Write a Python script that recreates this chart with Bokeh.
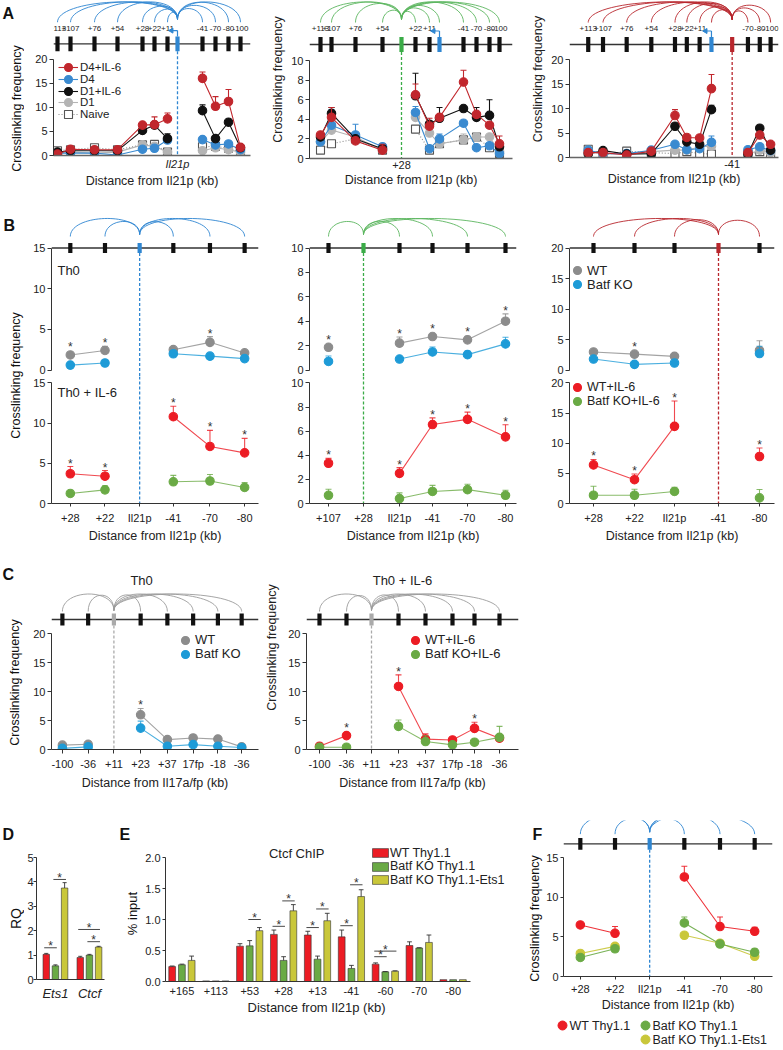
import math
import numpy as np
from bokeh.plotting import figure
from bokeh.layouts import row, column
from bokeh.models import (Range1d, FixedTicker, Legend, LegendItem, Spacer, Title,
                          PrintfTickFormatter)
from bokeh.core.properties import value
from bokeh.embed import file_html
from bokeh.resources import INLINE

FONT = "Liberation Sans"
INK = "#222222"

# ============================ DATA ============================
# ---- Panel A : 3C, three viewpoints across the Il21 locus
A_SITE_LABELS = ["+113", "+107", "+76", "+54", "+28", "+22", "+11", "Il21p", "-41", "-70", "-80", "-100"]
A_SERIES = ["D4+IL-6", "D4", "D1+IL-6", "D1", "Naive"]

A1_SITES = ["+113", "+107", "+76", "+54", "+28", "+22", "+11", "-41", "-70", "-80", "-100"]
A1_D4_IL6 = [0.3, 1.3, 1.2, 1.2, 6.3, 6.4, 7.6, 16.0, 10.2, 11.2, 1.7]
A1_D4_IL6_ERR = [0, 0, 0, 0, 0.3, 1.6, 1.2, 1.3, 2.0, 2.5, 0.3]
A1_D4 = [0.5, 0.5, 0.5, 0.1, 1.3, 1.5, 3.2, 3.3, 2.2, 2.4, 1.2]
A1_D4_ERR = [0, 0, 0, 0, 0, 0, 0.6, 0, 0, 0, 0]
A1_D1_IL6 = [0.7, 1.0, 1.0, 1.0, 5.2, 6.3, 3.5, 9.3, 3.5, 6.9, 1.6]
A1_D1_IL6_ERR = [0, 0, 0, 0, 0.4, 0, 1.0, 1.2, 0.4, 0, 0]
A1_D1 = [0.5, 0.7, 0.5, 0.7, 2.2, 1.9, 0.7, 1.0, 1.6, 1.2, 0.7]
A1_D1_ERR = [0] * 11
A1_NAIVE = [1.0, 1.2, 1.6, 1.2, 2.2, 2.3, 0.7, 1.8, 1.9, 1.5, 0.7]
A1_NAIVE_ERR = [0] * 11

A2_SITES = ["+113", "+107", "+76", "+54", "+22", "+11", "Il21p", "-41", "-70", "-80", "-100"]
A2_D4_IL6 = [2.4, 4.2, 1.8, 0.85, 6.5, 3.3, 4.2, 7.8, 4.5, 3.4, 1.5]
A2_D4_IL6_ERR = [0, 1.0, 0, 0.6, 1.1, 0.8, 0, 1.2, 0, 0, 0.8]
A2_D4 = [1.7, 3.4, 2.4, 1.2, 4.7, 1.0, 2.0, 3.6, 1.1, 1.3, 0.5]
A2_D4_ERR = [0, 1.6, 1.1, 0, 0.6, 0, 0.5, 0, 0, 0, 0]
A2_D1_IL6 = [2.2, 4.6, 2.0, 1.0, 6.4, 3.5, 4.1, 5.1, 4.2, 4.4, 1.2]
A2_D1_IL6_ERR = [0, 0.6, 0, 0, 2.3, 0, 1.1, 0, 1.0, 1.6, 0]
A2_D1 = [1.7, 2.9, 2.2, 0.85, 4.2, 2.6, 1.5, 1.9, 2.2, 2.2, 0.7]
A2_D1_ERR = [0, 0, 0, 0, 0, 0, 0, 0.6, 0, 0, 0]
A2_NAIVE = [0.85, 1.5, 2.0, 0.85, 3.0, 0.85, 1.5, 1.9, 2.2, 1.1, 0.5]
A2_NAIVE_ERR = [0] * 11

A3_SITES = ["+113", "+107", "+76", "+54", "+28", "+22", "+11", "Il21p", "-70", "-80", "-100"]
A3_D4_IL6 = [1.0, 1.0, 0.5, 1.3, 8.6, 4.1, 4.0, 14.1, 1.0, 4.6, 2.7]
A3_D4_IL6_ERR = [0, 0, 0, 0, 1.2, 0, 0, 2.9, 0, 0, 0]
A3_D4 = [1.5, 0.8, 0.8, 1.5, 2.7, 1.6, 1.8, 3.1, 1.6, 2.2, 1.4]
A3_D4_ERR = [0, 0, 0, 0.7, 0, 0, 0, 1.3, 0, 0, 0]
A3_D1_IL6 = [0.7, 1.4, 0.7, 0.8, 6.4, 3.2, 2.7, 9.8, 0.7, 6.0, 1.5]
A3_D1_IL6_ERR = [0, 0, 0, 0, 0, 0, 0, 0.9, 0, 0, 0]
A3_D1 = [1.2, 0.8, 0.8, 1.2, 1.5, 1.5, 2.2, 2.3, 0.7, 1.5, 1.0]
A3_D1_ERR = [0] * 11
A3_NAIVE = [1.7, 0.5, 1.3, 1.0, 0.8, 1.2, 0.8, 0.7, 0.7, 1.2, 0.7]
A3_NAIVE_ERR = [0] * 11

# ---- Panel B : WT vs Batf KO, Th0 (top) and Th0 + IL-6 (bottom)
B_GROUPS_TOP = ["WT", "Batf KO"]
B_GROUPS_BOTTOM = ["WT+IL-6", "Batf KO+IL-6"]

B1_SITES = ["+28", "+22", "Il21p", "-41", "-70", "-80"]
B1_POINTS = ["+28", "+22", "-41", "-70", "-80"]
B1_TH0_WT = [1.85, 2.4, 2.5, 3.4, 2.1]
B1_TH0_WT_ERR = [0.3, 0.5, 0.0, 0.7, 0.0]
B1_TH0_KO = [0.6, 0.86, 2.0, 1.7, 1.4]
B1_TH0_KO_ERR = [0, 0, 0, 0, 0]
B1_IL6_WT = [3.7, 3.4, 10.8, 7.1, 6.3]
B1_IL6_WT_ERR = [0.9, 0.7, 1.3, 2.0, 1.8]
B1_IL6_KO = [1.25, 1.7, 2.7, 2.8, 2.0]
B1_IL6_KO_ERR = [0.0, 0.5, 0.8, 0.8, 0.6]
B1_TH0_SIG = [1, 1, 0, 1, 0]
B1_IL6_SIG = [1, 1, 1, 1, 1]

B2_SITES = ["+107", "+28", "Il21p", "-41", "-70", "-80"]
B2_POINTS = ["+107", "Il21p", "-41", "-70", "-80"]
B2_TH0_WT = [1.86, 2.2, 2.74, 2.47, 4.0]
B2_TH0_WT_ERR = [0.0, 0.5, 0.2, 0.3, 0.6]
B2_TH0_KO = [0.7, 0.9, 1.48, 1.26, 2.14]
B2_TH0_KO_ERR = [0.45, 0.0, 0.4, 0.3, 0.55]
B2_IL6_WT = [3.34, 2.5, 6.55, 6.98, 5.53]
B2_IL6_WT_ERR = [0.4, 0.48, 0.55, 0.6, 1.0]
B2_IL6_KO = [0.68, 0.41, 1.0, 1.15, 0.68]
B2_IL6_KO_ERR = [0.5, 0.47, 0.5, 0.45, 0.42]
B2_TH0_SIG = [1, 1, 1, 1, 1]
B2_IL6_SIG = [1, 1, 1, 1, 1]

B3_SITES = ["+28", "+22", "Il21p", "-41", "-80"]
B3_POINTS = ["+28", "+22", "Il21p", "-80"]
B3_TH0_WT = [2.95, 2.6, 2.24, 3.2]
B3_TH0_WT_ERR = [0, 0.3, 0, 1.6]
B3_TH0_KO = [1.8, 0.93, 1.15, 2.7]
B3_TH0_KO_ERR = [0, 0, 0, 1.2]
B3_IL6_WT = [6.4, 3.95, 12.8, 7.8]
B3_IL6_WT_ERR = [0.9, 0.95, 4.2, 1.4]
B3_IL6_KO = [1.37, 1.37, 2.0, 0.93]
B3_IL6_KO_ERR = [1.5, 1.0, 0.7, 1.4]
B3_TH0_SIG = [0, 1, 0, 0]
B3_IL6_SIG = [1, 1, 1, 1]

# ---- Panel C : Il17a/f locus
C_SITES = ["-100", "-36", "+11", "+23", "+37", "17fp", "-18", "-36"]
C_POINT_SITE = [0, 1, 3, 4, 5, 6, 7]
C1_WT = [0.75, 0.9, 6.0, 1.7, 2.0, 1.8, 0.45]
C1_WT_ERR = [0, 0, 1.1, 0.3, 0.5, 0, 0]
C1_KO = [0.2, 0.45, 3.7, 0.55, 0.85, 0.55, 0.35]
C1_KO_ERR = [0, 0, 1.2, 0, 0.35, 0, 0]
C1_SIG = [0, 0, 1, 0, 0, 0, 0]
C2_WT = [0.57, 2.4, 10.9, 1.8, 1.65, 3.65, 1.95]
C2_WT_ERR = [0, 0, 2.0, 0.9, 0.45, 1.05, 0]
C2_KO = [0.4, 0.4, 4.0, 1.37, 0.8, 1.26, 2.1]
C2_KO_ERR = [0, 0, 1.1, 1.0, 0, 0, 1.9]
C2_SIG = [0, 1, 1, 0, 0, 1, 0]

# ---- Panel D : RQ
D_GENES = ["Ets1", "Ctcf"]
D_GROUPS = ["WT Thy1.1", "Batf KO Thy1.1", "Batf KO Thy1.1-Ets1"]
D_WT = [1.03, 0.90]
D_WT_ERR = [0.04, 0.05]
D_KO = [0.56, 1.00]
D_KO_ERR = [0.04, 0.03]
D_ETS1 = [3.75, 1.33]
D_ETS1_ERR = [0.22, 0.03]
D_SIG_GENE = [0, 0, 1, 1]
D_SIG_FROM = [0, 1, 0, 1]
D_SIG_TO = [1, 2, 2, 2]
D_SIG_Y = [1.3, 4.1, 2.05, 1.55]

# ---- Panel E : Ctcf ChIP
E_SITES = ["+165", "+113", "+53", "+28", "+13", "-41", "-60", "-70", "-80"]
E_WT = [0.24, 0.01, 0.57, 0.76, 0.75, 0.72, 0.28, 0.58, 0.03]
E_WT_ERR = [0.01, 0.0, 0.04, 0.07, 0.06, 0.11, 0.02, 0.06, 0.0]
E_KO = [0.27, 0.01, 0.575, 0.34, 0.36, 0.21, 0.156, 0.54, 0.03]
E_KO_ERR = [0.01, 0.0, 0.085, 0.06, 0.05, 0.05, 0.005, 0.005, 0.0]
E_ETS1 = [0.34, 0.01, 0.82, 1.14, 0.98, 1.37, 0.167, 0.63, 0.03]
E_ETS1_ERR = [0.07, 0.0, 0.05, 0.10, 0.12, 0.11, 0.005, 0.12, 0.0]
E_SIG_SITE = [2, 3, 3, 4, 4, 5, 5, 6, 6]
E_SIG_FROM = [1, 0, 1, 0, 1, 0, 1, 0, 0]
E_SIG_TO = [2, 1, 2, 1, 2, 1, 2, 1, 2]
E_SIG_Y = [1.0, 0.89, 1.30, 0.87, 1.17, 0.90, 1.56, 0.40, 0.49]

# ---- Panel F : 3C with Ets1 rescue
F_SITES = ["+28", "+22", "Il21p", "-41", "-70", "-80"]
F_POINTS = ["+28", "+22", "-41", "-70", "-80"]
F_WT = [6.5, 5.45, 12.55, 6.3, 5.7]
F_WT_ERR = [0, 0.85, 1.35, 1.2, 0.5]
F_KO = [2.4, 3.5, 6.75, 4.1, 3.05]
F_KO_ERR = [0, 0, 0.75, 0, 0.45]
F_ETS1 = [2.9, 3.8, 5.2, 4.2, 2.55]
F_ETS1_ERR = [0.2, 0, 0, 0, 0]

# ============================ LAYOUT (schematic site positions, px) ============================
A_POS = [[57, 70, 94, 117, 142, 154, 167, 177, 202, 215, 228, 240],
         [320, 331, 355, 382, 401, 415, 429, 439, 463, 476, 489, 499],
         [588, 603, 627, 652, 676, 688, 701, 713, 734, 750, 762, 773]]
B_POS = [[68, 103, 138, 172, 209, 244],
         [328, 363, 399, 432, 467, 505],
         [593, 634, 674, 718, 759]]
C_POS = [[60, 86, 112, 139, 166, 192, 217, 241],
         [319, 346, 371, 398, 425, 452, 474, 499]]
F_POS = [578, 613, 648, 683, 719, 754]

RED_A, BLUE_A, BLACK, GRAY_A = "#c1272d", "#3a8ad0", "#111111", "#b4b4b4"
GRAY_B, BLUE_B, RED_B, GREEN_B, YELLOW = "#8c8c8c", "#1e9bd7", "#ec1c24", "#6aaa45", "#c9c73a"
VP_BLUE, VP_GREEN, VP_RED, ARC_GREEN, ARC_GRAY = "#2f86d1", "#3aab47", "#b8262c", "#5bb55f", "#9b9b9b"


# ============================ HELPERS ============================
def make_fig(g, f, xr, yr, xaxis=True, yaxis=True):
    gx0, gx1, gy0, gy1 = g
    fx0, fx1, fy0, fy1 = f
    p = figure(width=int(round(gx1 - gx0)), height=int(round(gy1 - gy0)),
               x_range=xr, y_range=yr,
               min_border_left=int(round(fx0 - gx0)), min_border_right=int(round(gx1 - fx1)),
               min_border_top=int(round(fy0 - gy0)), min_border_bottom=int(round(gy1 - fy1)),
               x_axis_location="below" if xaxis else None,
               y_axis_location="left" if yaxis else None,
               output_backend="svg", toolbar_location=None)
    p.frame_align = False
    p.xgrid.visible = False
    p.ygrid.visible = False
    p.outline_line_color = None
    p.extra_y_ranges = {"px": Range1d(fy1, fy0)}
    return p


def vrange(fy0, fy1, y0px, vtop, vtop_px):
    ppu = (y0px - vtop_px) / vtop
    return Range1d(-(fy1 - y0px) / ppu, (y0px - fy0) / ppu), ppu


def style_axis(ax, size="11px", tick_out=4, standoff=2):
    ax.axis_line_color = "#333333"
    ax.axis_line_width = 1
    ax.major_tick_line_color = "#333333"
    ax.major_tick_out = tick_out
    ax.major_tick_in = 0
    ax.minor_tick_line_color = None
    ax.major_label_standoff = standoff
    ax.major_label_text_font = FONT
    ax.major_label_text_font_size = size
    ax.major_label_text_color = INK
    ax.axis_label_text_font = FONT
    ax.axis_label_text_font_size = "12.5px"
    ax.axis_label_text_font_style = "normal"
    ax.axis_label_text_color = INK


def style_y(p, ticks, top, label=None, label_standoff=3, tick_out=4, standoff=2, size="11px"):
    ax = p.yaxis[0]
    style_axis(ax, size=size, tick_out=tick_out, standoff=standoff)
    ax.ticker = FixedTicker(ticks=ticks)
    ax.bounds = (0, top)
    if label:
        ax.axis_label = label
        ax.axis_label_standoff = label_standoff
    return ax


def gene_track(p, pos, vp, vcolor, arc_color, line_y, box_h, x0, x1, arc_vy, arc_sy, hfun,
               dash_bottom, labels=None, label_y=None, promoter=None, box_w=4.2):
    R = {"y_range_name": "px"}
    n = len(pos)
    others = [i for i in range(n) if i != vp]
    m = len(others)
    xa = [pos[vp]] * m
    xb = [pos[i] for i in others]
    ks = [hfun(abs(pos[i] - pos[vp])) / 0.75 for i in others]
    p.bezier(x0=xa, y0=[arc_vy] * m, x1=xb, y1=[arc_sy] * m,
             cx0=xa, cy0=[arc_vy - k for k in ks], cx1=xb, cy1=[arc_sy - k for k in ks],
             line_color=arc_color, line_width=0.9, **R)
    p.segment([x0], [line_y], [x1], [line_y], line_color="#333333", line_width=1.3, **R)
    p.segment([pos[vp]], [line_y + box_h / 2], [pos[vp]], [dash_bottom], line_color=vcolor,
              line_width=1.3, line_dash="3 2", **R)
    cols = []
    for i in range(n):
        if i == vp:
            cols.append(vcolor)
        elif promoter is not None and i == promoter[0]:
            cols.append(promoter[1])
        else:
            cols.append("#111111")
    p.segment(pos, [line_y - box_h / 2] * n, pos, [line_y + box_h / 2] * n, line_color=cols,
              line_width=box_w, **R)
    if labels:
        idx = [i for i in range(n) if labels[i]]
        p.text([pos[i] for i in idx], [label_y] * len(idx), text=[labels[i] for i in idx],
               text_align="center", text_baseline="middle", text_font=value(FONT),
               text_font_size="8px", text_color=INK, **R)
    if promoter is not None:
        px_ = pos[promoter[0]]
        top = line_y - box_h / 2
        ay = top - 6
        p.segment([px_, px_], [top, ay], [px_, px_ - 5], [ay, ay], line_color=promoter[1],
                  line_width=1.2, **R)
        p.scatter([px_ - 6], [ay], marker="triangle", size=5, angle=math.pi / 2,
                  fill_color=promoter[1], line_color=promoter[1], **R)


def draw_series(p, xs, ys, errs, vx, color, marker="circle", fill=None, edge=None,
                lcolor=None, dash="solid", size=8.5, lalpha=1.0, cap=3):
    lx, ly = [], []
    side = None
    for x, y in zip(xs, ys):
        s = x > vx
        if side is not None and s != side:
            lx.append(np.nan)
            ly.append(np.nan)
        lx.append(x)
        ly.append(y)
        side = s
    lc = lcolor or color
    lr = p.line(np.array(lx, dtype=float), np.array(ly, dtype=float), line_color=lc,
                line_width=1.1, line_dash=dash, line_alpha=lalpha)
    ex = [x for x, e in zip(xs, errs) if e > 0]
    eb = [y for y, e in zip(ys, errs) if e > 0]
    et = [y + e for y, e in zip(ys, errs) if e > 0]
    ec = color if marker == "circle" else lc
    if ex:
        p.segment(ex, eb, ex, et, line_color=ec, line_width=1.1, line_alpha=lalpha)
        p.segment([x - cap for x in ex], et, [x + cap for x in ex], et, line_color=ec,
                  line_width=1.1, line_alpha=lalpha)
    sr = p.scatter(xs, ys, marker=marker, size=size, fill_color=fill or color,
                   line_color=edge or color, line_width=1.1)
    return lr, sr


def draw_stars(p, xs, a, ae, b, be, flags, ppu):
    sx, sy, off = [], [], []
    for x, v1, e1, v2, e2, f in zip(xs, a, ae, b, be, flags):
        if not f:
            continue
        t1, t2 = v1 + e1, v2 + e2
        top, err = (t1, e1) if t1 >= t2 else (t2, e2)
        sx.append(x)
        sy.append(top)
        off.append(min(0.0, err * ppu - 4.5) - 3)
    if sx:
        p.text(sx, sy, text=["*"] * len(sx), text_align="center", text_baseline="alphabetic",
               y_offset=off, text_font=value(FONT), text_font_size="12px", text_color="#333333")


def add_legend(p, items, frame_left, frame_bottom, left, first_cy, pitch, gw=20, gh=20,
               font="12.5px", standoff=2):
    # one single-row legend per item so that rows can sit closer than the glyph box
    for i, it in enumerate(items):
        cy = first_cy + i * pitch
        leg = Legend(items=[it], location=(left - frame_left, frame_bottom - (cy + gh / 2)),
                     glyph_width=gw, glyph_height=gh, label_height=10, padding=0, margin=0,
                     label_standoff=standoff, border_line_color=None, background_fill_alpha=0,
                     label_text_font=FONT, label_text_font_size=font, label_text_color=INK,
                     label_text_baseline="middle")
        p.add_layout(leg)


def strip(w, h, texts):
    p = figure(width=w, height=h, x_range=Range1d(0, w), y_range=Range1d(h, 0),
               x_axis_location=None, y_axis_location=None, min_border_left=0,
               min_border_right=0, min_border_top=0, min_border_bottom=0,
               output_backend="svg", toolbar_location=None)
    p.frame_align = False
    p.xgrid.visible = False
    p.ygrid.visible = False
    p.outline_line_color = None
    for (x, y, t, size, style, angle, align, base) in texts:
        p.text([x], [y], text=[t], angle=angle, text_align=align, text_baseline=base,
               text_font=value(FONT), text_font_size=size, text_font_style=style,
               text_color="#111111")
    return p


XLAB = "Distance from Il21p (kb)"
ROT = math.pi / 2

# ============================ PANEL A ============================
A_DATA = [
    [(A1_D4_IL6, A1_D4_IL6_ERR), (A1_D4, A1_D4_ERR), (A1_D1_IL6, A1_D1_IL6_ERR), (A1_D1, A1_D1_ERR), (A1_NAIVE, A1_NAIVE_ERR)],
    [(A2_D4_IL6, A2_D4_IL6_ERR), (A2_D4, A2_D4_ERR), (A2_D1_IL6, A2_D1_IL6_ERR), (A2_D1, A2_D1_ERR), (A2_NAIVE, A2_NAIVE_ERR)],
    [(A3_D4_IL6, A3_D4_IL6_ERR), (A3_D4, A3_D4_ERR), (A3_D1_IL6, A3_D1_IL6_ERR), (A3_D1, A3_D1_ERR), (A3_NAIVE, A3_NAIVE_ERR)],
]
A_SITELISTS = [A1_SITES, A2_SITES, A3_SITES]
A_VP = [7, 4, 8]
A_VCOL = [VP_BLUE, VP_GREEN, VP_RED]
A_ARC = [VP_BLUE, ARC_GREEN, VP_RED]
A_G = [(24, 260, 0, 190), (260, 520, 0, 190), (520, 781, 0, 190)]
A_F = [(53, 250, 0, 157), (309, 512, 0, 158), (569, 778, 0, 157)]
A_XR = [(53, 250), (309, 512), (569, 781)]
A_YMAX = [20, 10, 20]
A_YMAXPX = [59.3, 60, 59.3]
A_TICKS = [[0, 5, 10, 15, 20], [0, 2, 4, 6, 8, 10], [0, 5, 10, 15, 20]]
A_STYLE = [dict(color=RED_A), dict(color=BLUE_A), dict(color=BLACK), dict(color=GRAY_A),
           dict(color="#555555", marker="square", fill="white", edge="#555555",
                lcolor="#8a8a8a", dash="1 2", size=8)]
A_ORDER = [4, 3, 1, 2, 0]

a_figs = []
for k in range(3):
    pos = A_POS[k]
    vp = A_VP[k]
    f = A_F[k]
    yr, ppu = vrange(f[2], f[3], f[3], A_YMAX[k], A_YMAXPX[k])
    p = make_fig(A_G[k], f, Range1d(*A_XR[k]), yr)
    labels = [l if (i != vp and l != "Il21p") else "" for i, l in enumerate(A_SITE_LABELS)]
    gene_track(p, pos, vp, A_VCOL[k], A_ARC[k], line_y=44, box_h=15, x0=A_XR[k][0], x1=A_XR[k][1],
               arc_vy=19, arc_sy=22, hfun=lambda s: min(19, 6 + 0.25 * s), dash_bottom=f[3],
               labels=labels, label_y=28, promoter=(7, VP_BLUE))
    xs = [pos[A_SITE_LABELS.index(s)] for s in A_SITELISTS[k]]
    rends = {}
    for si in A_ORDER:
        vals, errs = A_DATA[k][si]
        rends[si] = draw_series(p, xs, vals, errs, pos[vp], **A_STYLE[si])
    style_y(p, A_TICKS[k], A_YMAX[k],
            label=None if k == 0 else "Crosslinking frequency", label_standoff=3)
    ax = p.xaxis[0]
    style_axis(ax, tick_out=0, standoff=2)
    ax.axis_line_color = "#666666"
    ax.axis_line_width = 1.6
    ax.major_tick_line_color = None
    ax.ticker = FixedTicker(ticks=[pos[vp]])
    ax.major_label_overrides = {pos[vp]: A_SITE_LABELS[vp]}
    if k == 0:
        ax.major_label_text_font_style = "italic"
    ax.axis_label = XLAB
    ax.axis_label_standoff = 1
    if k == 0:
        items = [LegendItem(label=A_SERIES[i], renderers=list(rends[i])) for i in range(5)]
        add_legend(p, items, f[0], f[3], left=58, first_cy=69, pitch=11.8, gw=20, gh=20,
                   font="11.5px", standoff=2)
    a_figs.append(p)

strip_a = strip(24, 190, [(2, 4, "A", "16px", "bold", 0, "left", "top"),
                          (16, 108, "Crosslinking frequency", "12.5px", "normal", ROT, "center", "middle")])
row_a = row(strip_a, *a_figs)

# ============================ PANEL B ============================
B_SITELISTS = [B1_SITES, B2_SITES, B3_SITES]
B_POINTLISTS = [B1_POINTS, B2_POINTS, B3_POINTS]
B_TOP = [(B1_TH0_WT, B1_TH0_WT_ERR, B1_TH0_KO, B1_TH0_KO_ERR, B1_TH0_SIG),
         (B2_TH0_WT, B2_TH0_WT_ERR, B2_TH0_KO, B2_TH0_KO_ERR, B2_TH0_SIG),
         (B3_TH0_WT, B3_TH0_WT_ERR, B3_TH0_KO, B3_TH0_KO_ERR, B3_TH0_SIG)]
B_BOT = [(B1_IL6_WT, B1_IL6_WT_ERR, B1_IL6_KO, B1_IL6_KO_ERR, B1_IL6_SIG),
         (B2_IL6_WT, B2_IL6_WT_ERR, B2_IL6_KO, B2_IL6_KO_ERR, B2_IL6_SIG),
         (B3_IL6_WT, B3_IL6_WT_ERR, B3_IL6_KO, B3_IL6_KO_ERR, B3_IL6_SIG)]
B_VP = [2, 1, 3]
B_VCOL = [VP_BLUE, VP_GREEN, VP_RED]
B_ARC = [VP_BLUE, ARC_GREEN, VP_RED]
B_GX = [(30, 260), (260, 520), (520, 781)]
B_FX = [(49, 258), (309, 516), (569, 774)]
B_YMAX = [15, 10, 20]
B_TICKS = [[0, 5, 10, 15], [0, 2, 4, 6, 8, 10], [0, 5, 10, 15, 20]]

b_cols = []
for k in range(3):
    pos = B_POS[k]
    vp = B_VP[k]
    gx, fx = B_GX[k], B_FX[k]
    xs = [pos[B_SITELISTS[k].index(s)] for s in B_POINTLISTS[k]]
    # --- top (Th0)
    ft = (fx[0], fx[1], 190, 376)
    yr, ppu_t = vrange(190, 376, 369.5, B_YMAX[k], 247.5)
    pt = make_fig((gx[0], gx[1], 190, 376), ft, Range1d(*fx), yr, xaxis=False)
    gene_track(pt, pos, vp, B_VCOL[k], B_ARC[k], line_y=247.5, box_h=10, x0=fx[0], x1=fx[1],
               arc_vy=234, arc_sy=236, hfun=lambda s: min(17, 7 + 0.2 * s), dash_bottom=376)
    wt, wte, ko, koe, sig = B_TOP[k]
    r_wt = draw_series(pt, xs, wt, wte, pos[vp], GRAY_B, lalpha=0.8)
    r_ko = draw_series(pt, xs, ko, koe, pos[vp], BLUE_B, lalpha=0.8)
    draw_stars(pt, xs, wt, wte, ko, koe, sig, ppu_t)
    style_y(pt, B_TICKS[k], B_YMAX[k])
    # --- bottom (Th0 + IL-6)
    fb = (fx[0], fx[1], 376, 504)
    yr, ppu_b = vrange(376, 504, 504, B_YMAX[k], 382.5)
    pb = make_fig((gx[0], gx[1], 376, 545), fb, Range1d(*fx), yr)
    pb.segment([pos[vp]], [376], [pos[vp]], [504], line_color=B_VCOL[k], line_width=1.3,
               line_dash="3 2", y_range_name="px")
    wt, wte, ko, koe, sig = B_BOT[k]
    r_wt6 = draw_series(pb, xs, wt, wte, pos[vp], RED_B, lalpha=0.8)
    r_ko6 = draw_series(pb, xs, ko, koe, pos[vp], GREEN_B, lalpha=0.8)
    draw_stars(pb, xs, wt, wte, ko, koe, sig, ppu_b)
    style_y(pb, B_TICKS[k], B_YMAX[k])
    ax = pb.xaxis[0]
    style_axis(ax, tick_out=3, standoff=5)
    ax.ticker = FixedTicker(ticks=pos)
    ax.major_label_overrides = {pp: lab for pp, lab in zip(pos, B_SITELISTS[k])}
    ax.axis_label = XLAB
    ax.axis_label_standoff = 2
    if k == 0:
        pt.text([55], [270], text=["Th0"], text_baseline="middle", text_font=value(FONT),
                text_font_size="13px", text_color=INK, y_range_name="px")
        pb.text([55], [392], text=["Th0 + IL-6"], text_baseline="middle", text_font=value(FONT),
                text_font_size="13px", text_color=INK, y_range_name="px")
    if k == 2:
        add_legend(pt, [LegendItem(label=B_GROUPS_TOP[0], renderers=[r_wt[1]]),
                        LegendItem(label=B_GROUPS_TOP[1], renderers=[r_ko[1]])],
                   ft[0], ft[3], left=567, first_cy=270, pitch=14, font="13px", standoff=-3)
        add_legend(pb, [LegendItem(label=B_GROUPS_BOTTOM[0], renderers=[r_wt6[1]]),
                        LegendItem(label=B_GROUPS_BOTTOM[1], renderers=[r_ko6[1]])],
                   fb[0], fb[3], left=567, first_cy=388, pitch=13.5, font="12.5px", standoff=-3)
    b_cols.append(column(pt, pb))

strip_b = strip(30, 355, [(3, 26, "B", "16px", "bold", 0, "left", "top"),
                          (15, 185, "Crosslinking frequency", "12.5px", "normal", ROT, "center", "middle")])
row_b = row(strip_b, *b_cols)

# ============================ PANEL C ============================
C_DATA = [(C1_WT, C1_WT_ERR, C1_KO, C1_KO_ERR, C1_SIG), (C2_WT, C2_WT_ERR, C2_KO, C2_KO_ERR, C2_SIG)]
C_GX = [(30, 262), (262, 520)]
C_FX = [(49, 258), (306, 518)]
C_TITLE = ["Th0", "Th0 + IL-6"]
C_TITLE_X = [140, 402]
C_COLORS = [(GRAY_B, BLUE_B), (RED_B, GREEN_B)]
C_LEG = [B_GROUPS_TOP, B_GROUPS_BOTTOM]
C_LEG_LEFT = [173, 405]
c_figs = []
for k in range(2):
    pos = C_POS[k]
    vp = 2
    gx, fx = C_GX[k], C_FX[k]
    f = (fx[0], fx[1], 545, 749)
    yr, ppu = vrange(545, 749, 749, 20, 633.3)
    p = make_fig((gx[0], gx[1], 545, 820), f, Range1d(*fx), yr)
    gene_track(p, pos, vp, "#aaaaaa", ARC_GRAY, line_y=619, box_h=12, x0=fx[0], x1=fx[1],
               arc_vy=610, arc_sy=611, hfun=lambda s: min(17, 8 + 0.3 * s), dash_bottom=749)
    p.text([C_TITLE_X[k]], [580], text=[C_TITLE[k]], text_align="center", text_baseline="middle",
           text_font=value(FONT), text_font_size="13px", text_color=INK, y_range_name="px")
    xs = [pos[i] for i in C_POINT_SITE]
    wt, wte, ko, koe, sig = C_DATA[k]
    r1 = draw_series(p, xs, wt, wte, pos[vp], C_COLORS[k][0], lalpha=0.8)
    r2 = draw_series(p, xs, ko, koe, pos[vp], C_COLORS[k][1], lalpha=0.8)
    draw_stars(p, xs, wt, wte, ko, koe, sig, ppu)
    style_y(p, [0, 5, 10, 15, 20], 20, label=None if k == 0 else "Crosslinking frequency",
            label_standoff=6)
    ax = p.xaxis[0]
    style_axis(ax, tick_out=4, standoff=4)
    ax.ticker = FixedTicker(ticks=pos)
    ax.major_label_overrides = {pp: lab for pp, lab in zip(pos, C_SITES)}
    ax.axis_label = "Distance from Il17a/fp (kb)"
    ax.axis_label_standoff = 3
    add_legend(p, [LegendItem(label=C_LEG[k][0], renderers=[r1[1]]),
                   LegendItem(label=C_LEG[k][1], renderers=[r2[1]])],
               f[0], f[3], left=C_LEG_LEFT[k], first_cy=639.5, pitch=14, font="13px", standoff=-3)
    c_figs.append(p)

strip_c = strip(30, 275, [(2, 20, "C", "16px", "bold", 0, "left", "top"),
                          (14, 137, "Crosslinking frequency", "12.5px", "normal", ROT, "center", "middle")])
row_c = row(strip_c, *c_figs, Spacer(width=261, height=275))

# ============================ PANEL D ============================
BAR_COLORS = [RED_B, GREEN_B, YELLOW]
fD = (34, 104, 850, 979)
yr, _ = vrange(850, 979, 979, 5, 857)
pD = make_fig((24, 112, 820, 1048), fD, Range1d(-0.557, 1.443), yr)
D_OFF = [-0.27, 0.0, 0.27]
for j, (vals, errs) in enumerate([(D_WT, D_WT_ERR), (D_KO, D_KO_ERR), (D_ETS1, D_ETS1_ERR)]):
    xs = [i + D_OFF[j] for i in range(len(D_GENES))]
    pD.vbar(x=xs, top=vals, width=0.19, bottom=0, fill_color=BAR_COLORS[j], line_color="#333333",
            line_width=0.6)
    tops = [v + e for v, e in zip(vals, errs)]
    pD.segment(xs, vals, xs, tops, line_color="#333333", line_width=0.9)
    pD.segment([x - 0.06 for x in xs], tops, [x + 0.06 for x in xs], tops, line_color="#333333",
               line_width=0.9)
xa = [g + D_OFF[a] - 0.06 for g, a in zip(D_SIG_GENE, D_SIG_FROM)]
xb = [g + D_OFF[b] + 0.04 for g, b in zip(D_SIG_GENE, D_SIG_TO)]
pD.segment(xa, D_SIG_Y, xb, D_SIG_Y, line_color="#333333", line_width=0.9)
pD.text([(a + b) / 2 for a, b in zip(xa, xb)], D_SIG_Y, text=["*"] * len(D_SIG_Y),
        text_align="center", text_baseline="alphabetic", y_offset=-1.5, text_font=value(FONT),
        text_font_size="12px", text_color="#333333")
style_y(pD, [0, 1, 2, 3, 4, 5], 5, tick_out=3, standoff=0)
ax = pD.xaxis[0]
style_axis(ax, tick_out=0, standoff=6, size="13px")
ax.major_tick_line_color = None
ax.ticker = FixedTicker(ticks=[0, 1])
ax.major_label_overrides = {0: D_GENES[0], 1: D_GENES[1]}
ax.major_label_text_font_style = "italic"

strip_d = strip(24, 228, [(2, 5, "D", "16px", "bold", 0, "left", "top"),
                          (15, 98, "RQ", "14px", "normal", ROT, "center", "middle")])

# ============================ PANEL E ============================
E_C0, E_STEP = 179.5, 34.1
fE = (163, 510, 838, 981)
yr, _ = vrange(838, 981, 981, 2.0, 857)
pE = make_fig((142, 525, 820, 1048), fE,
              Range1d((163 - E_C0) / E_STEP, (510 - E_C0) / E_STEP), yr)
E_OFF = [-0.287, 0.0, 0.287]
e_rends = []
for j, (vals, errs) in enumerate([(E_WT, E_WT_ERR), (E_KO, E_KO_ERR), (E_ETS1, E_ETS1_ERR)]):
    xs = [i + E_OFF[j] for i in range(len(E_SITES))]
    r = pE.vbar(x=xs, top=vals, width=0.2, bottom=0, fill_color=BAR_COLORS[j],
                line_color="#333333", line_width=0.6)
    e_rends.append(r)
    ex = [x for x, e in zip(xs, errs) if e > 0]
    eb = [v for v, e in zip(vals, errs) if e > 0]
    et = [v + e for v, e in zip(vals, errs) if e > 0]
    pE.segment(ex, eb, ex, et, line_color="#333333", line_width=0.9)
    pE.segment([x - 0.07 for x in ex], et, [x + 0.07 for x in ex], et, line_color="#333333",
               line_width=0.9)
xa = [s + E_OFF[a] - 0.04 for s, a in zip(E_SIG_SITE, E_SIG_FROM)]
xb = [s + E_OFF[b] + 0.04 for s, b in zip(E_SIG_SITE, E_SIG_TO)]
pE.segment(xa, E_SIG_Y, xb, E_SIG_Y, line_color="#333333", line_width=0.9)
pE.text([(a + b) / 2 for a, b in zip(xa, xb)], E_SIG_Y, text=["*"] * len(E_SIG_Y),
        text_align="center", text_baseline="alphabetic", y_offset=-1.5, text_font=value(FONT),
        text_font_size="12px", text_color="#333333")
pE.text([(267 - E_C0) / E_STEP], [853], text=["Ctcf ChIP"], text_baseline="middle",
        text_font=value(FONT), text_font_size="13px", text_color=INK, y_range_name="px")
ay = style_y(pE, [0, 0.5, 1.0, 1.5, 2.0], 2.0, tick_out=3, standoff=2)
ay.formatter = PrintfTickFormatter(format="%.1f")
ax = pE.xaxis[0]
style_axis(ax, tick_out=0, standoff=5)
ax.major_tick_line_color = None
ax.ticker = FixedTicker(ticks=list(range(len(E_SITES))))
ax.major_label_overrides = {i: s for i, s in enumerate(E_SITES)}
ax.bounds = (-0.5, 8.52)
pE.add_layout(Title(text=XLAB, align="left", offset=82, standoff=0, text_font=FONT,
                    text_font_size="13px", text_font_style="normal", text_color=INK), "below")
add_legend(pE, [LegendItem(label=D_GROUPS[j], renderers=[e_rends[j]]) for j in range(3)],
           fE[0], fE[3], left=368, first_cy=854, pitch=13.5, gw=20, gh=11, font="12.5px",
           standoff=0)

strip_e = strip(30, 228, [(7, 5, "E", "16px", "bold", 0, "left", "top"),
                          (20, 93, "% input", "13px", "normal", ROT, "center", "middle")])

# ============================ PANEL F ============================
fF = (561, 772, 820, 980)
yr, ppuF = vrange(820, 980, 980, 15, 858)
pF = make_fig((543, 781, 820, 1014), fF, Range1d(561, 772), yr)
gene_track(pF, F_POS, 2, VP_BLUE, VP_BLUE, line_y=844, box_h=12, x0=561, x1=772, arc_vy=832,
           arc_sy=834, hfun=lambda s: min(20, 10 + 0.15 * s), dash_bottom=980)
xs = [F_POS[F_SITES.index(s)] for s in F_POINTS]
rf3 = draw_series(pF, xs, F_ETS1, F_ETS1_ERR, F_POS[2], YELLOW, lalpha=0.9)
rf2 = draw_series(pF, xs, F_KO, F_KO_ERR, F_POS[2], GREEN_B, lalpha=0.9)
rf1 = draw_series(pF, xs, F_WT, F_WT_ERR, F_POS[2], RED_B, lalpha=0.9)
style_y(pF, [0, 5, 10, 15], 15, tick_out=3, standoff=2)
ax = pF.xaxis[0]
style_axis(ax, tick_out=3, standoff=3)
ax.ticker = FixedTicker(ticks=F_POS)
ax.major_label_overrides = {pp: lab for pp, lab in zip(F_POS, F_SITES)}
ax.axis_label = XLAB
ax.axis_label_standoff = 0

# legend of panel F, set below the axis title (key drawn in its own strip)
pFL = figure(width=238, height=34, x_range=Range1d(543, 781), y_range=Range1d(1048, 1014),
             x_axis_location=None, y_axis_location=None, min_border_left=0, min_border_right=0,
             min_border_top=0, min_border_bottom=0, output_backend="svg", toolbar_location=None)
pFL.frame_align = False
pFL.xgrid.visible = False
pFL.ygrid.visible = False
pFL.outline_line_color = None
F_KEY_X = [562, 645, 645]
F_KEY_Y = [1025, 1025, 1039]
pFL.scatter(F_KEY_X, F_KEY_Y, marker="circle", size=9, fill_color=[RED_B, GREEN_B, YELLOW],
            line_color=[RED_B, GREEN_B, YELLOW])
pFL.text([x + 7 for x in F_KEY_X], F_KEY_Y, text=D_GROUPS, text_baseline="middle",
         text_font=value(FONT), text_font_size="12.5px", text_color=INK)

strip_f = strip(18, 228, [(7, 5, "F", "16px", "bold", 0, "left", "top"),
                          (9, 98, "Crosslinking frequency", "12.5px", "normal", ROT, "center", "middle")])

row_def = row(strip_d, pD, strip_e, pE, strip_f, column(pF, pFL))

layout = column(row_a, row_b, row_c, row_def)
open("out.html", "w").write(file_html(layout, INLINE))
